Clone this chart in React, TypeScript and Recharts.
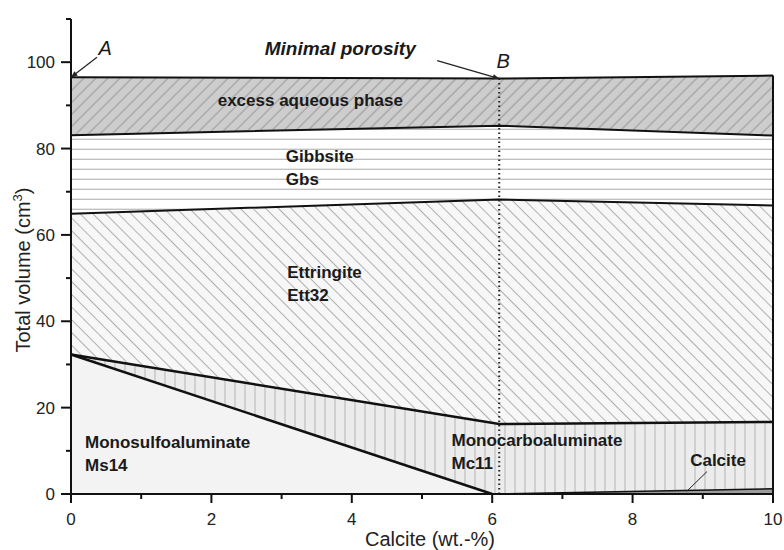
import React from 'react';
import { ComposedChart, Area, XAxis, YAxis, ReferenceLine, ReferenceDot } from 'recharts';

// ---- data (cumulative boundaries, cm3) ----
const xValues = [0, 6.0, 6.1, 10];
const aqueousTop = [96.5, null, 96.2, 96.9];
const gibbsiteTop = [83.1, null, 85.3, 83.0];
const ettringiteTop = [64.9, null, 68.2, 66.8];
const mc11Top = [32.3, null, 16.2, 16.7];
const ms14Top = [32.3, 0, null, null];
const calciteTop = [null, null, 0, 1.2];

const xTicks = [0, 1, 2, 3, 4, 5, 6, 7, 8, 9, 10];
const xMajor = [0, 2, 4, 6, 8, 10];
const yTicks = [0, 10, 20, 30, 40, 50, 60, 70, 80, 90, 100, 110];
const yMajor = [0, 20, 40, 60, 80, 100];

const minimalPorosityX = 6.1;

const phaseLabels = [
  { x: 2.09, y: 89.9, lines: ['excess aqueous phase'] },
  { x: 3.06, y: 77.0, lines: ['Gibbsite', 'Gbs'] },
  { x: 3.08, y: 50.0, lines: ['Ettringite', 'Ett32'] },
  { x: 0.2, y: 10.6, lines: ['Monosulfoaluminate', 'Ms14'] },
  { x: 5.42, y: 11.2, lines: ['Monocarboaluminate', 'Mc11'] },
  { x: 8.82, y: 6.4, lines: ['Calcite'] },
];

const rows = xValues.map((x, i) => ({
  x,
  aq: aqueousTop[i],
  gbs: gibbsiteTop[i],
  ett: ettringiteTop[i],
  mc: mc11Top[i],
  ms: ms14Top[i],
  cal: calciteTop[i],
}));

// ---- layout ----
const W = 784;
const H = 550;
const MARGIN = { top: 19, right: 11, bottom: 16, left: 11 };
const Y_AXIS_W = 60;
const X_AXIS_H = 40;
const PLOT_LEFT = MARGIN.left + Y_AXIS_W;
const PLOT_BOTTOM = H - MARGIN.bottom - X_AXIS_H;
const FONT = "'Liberation Sans', Arial, Helvetica, sans-serif";

function XTick(props: any) {
  const { x, payload } = props;
  const v = payload.value;
  const major = xMajor.includes(v);
  return (
    <g>
      <line x1={x} x2={x} y1={PLOT_BOTTOM} y2={PLOT_BOTTOM + (major ? 9 : 5)} stroke="#111" strokeWidth={2} />
      {major && (
        <text x={x} y={PLOT_BOTTOM + 31} textAnchor="middle" fontSize={17} fill="#222" fontFamily={FONT}>
          {v}
        </text>
      )}
    </g>
  );
}

function YTick(props: any) {
  const { y, payload } = props;
  const v = payload.value;
  const major = yMajor.includes(v);
  return (
    <g>
      <line x1={PLOT_LEFT - (major ? 10 : 5)} x2={PLOT_LEFT} y1={y} y2={y} stroke="#111" strokeWidth={2} />
      {major && (
        <text x={PLOT_LEFT - 16} y={y + 6} textAnchor="end" fontSize={17} fill="#222" fontFamily={FONT}>
          {v}
        </text>
      )}
    </g>
  );
}

const textShape = (lines: string[], opts: any) => (p: any) => (
  <text
    x={p.cx}
    y={p.cy}
    fontFamily={FONT}
    fontSize={opts.size}
    fontWeight={opts.weight}
    fontStyle={opts.style}
    fill="#1a1a1a"
    textAnchor="start"
  >
    {lines.map((l, i) => (
      <tspan key={i} x={p.cx} dy={i === 0 ? 0 : opts.lh}>
        {l}
      </tspan>
    ))}
  </text>
);

const arrowShape = (dx: number, dy: number) => (p: any) => {
  const x0 = p.cx + dx;
  const y0 = p.cy + dy;
  const ang = Math.atan2(p.cy - y0, p.cx - x0);
  const L = 7;
  const a1 = ang + Math.PI - 0.4;
  const a2 = ang + Math.PI + 0.4;
  return (
    <g>
      <line x1={x0} y1={y0} x2={p.cx} y2={p.cy} stroke="#222" strokeWidth={1.2} />
      <path
        d={`M${p.cx},${p.cy} L${p.cx + L * Math.cos(a1)},${p.cy + L * Math.sin(a1)} L${p.cx + L * Math.cos(a2)},${p.cy + L * Math.sin(a2)} Z`}
        fill="#222"
      />
    </g>
  );
};

export default function App() {
  return (
    <div style={{ position: 'absolute', left: 0, top: 0, width: W, height: H, background: '#fff' }}>
      <ComposedChart width={W} height={H} data={rows} margin={MARGIN}>
        <defs>
          <pattern id="pAq" patternUnits="userSpaceOnUse" width="8.5" height="8.5" patternTransform="rotate(45)">
            <rect width="8.5" height="8.5" fill="#cdcdcd" />
            <line x1="4" y1="0" x2="4" y2="8.5" stroke="#8e8e8e" strokeWidth="0.9" />
          </pattern>
          <pattern id="pGbs" patternUnits="userSpaceOnUse" width="10" height="10">
            <rect width="10" height="10" fill="#ffffff" />
            <line x1="0" y1="9.3" x2="10" y2="9.3" stroke="#bdbdbd" strokeWidth="1.3" />
          </pattern>
          <pattern id="pEtt" patternUnits="userSpaceOnUse" width="9" height="9" patternTransform="rotate(-45)">
            <rect width="9" height="9" fill="#f7f7f7" />
            <line x1="4.5" y1="0" x2="4.5" y2="9" stroke="#a8a8a8" strokeWidth="0.9" />
          </pattern>
          <pattern id="pMc" patternUnits="userSpaceOnUse" width="10" height="10">
            <rect width="10" height="10" fill="#ececec" />
            <line x1="5" y1="0" x2="5" y2="10" stroke="#b4b4b4" strokeWidth="1" />
          </pattern>
        </defs>
        <XAxis
          dataKey="x"
          type="number"
          domain={[0, 10]}
          ticks={xTicks}
          interval={0}
          height={X_AXIS_H}
          axisLine={{ stroke: '#111', strokeWidth: 2 }}
          tickLine={false}
          tick={XTick}
          label={{
            content: () => (
              <text x={430} y={546} textAnchor="middle" fontSize={20} fill="#222" fontFamily={FONT}>
                Calcite (wt.-%)
              </text>
            ),
          }}
        />
        <YAxis
          type="number"
          domain={[0, 110]}
          ticks={yTicks}
          interval={0}
          width={Y_AXIS_W}
          axisLine={{ stroke: '#111', strokeWidth: 2 }}
          tickLine={false}
          tick={YTick}
          label={{
            content: () => (
              <text
                x={30}
                y={270}
                transform="rotate(-90 30 270)"
                textAnchor="middle"
                fontSize={20}
                fill="#222"
                fontFamily={FONT}
              >
                Total volume (cm
                <tspan fontSize={13} dy={-8}>3</tspan>
                <tspan dy={8}>)</tspan>
              </text>
            ),
          }}
        />
        <Area dataKey="aq" type="linear" connectNulls fill="url(#pAq)" fillOpacity={1} stroke="#111" strokeWidth={2} dot={false} activeDot={false} isAnimationActive={false} />
        <Area dataKey="gbs" type="linear" connectNulls fill="url(#pGbs)" fillOpacity={1} stroke="#111" strokeWidth={2} dot={false} activeDot={false} isAnimationActive={false} />
        <Area dataKey="ett" type="linear" connectNulls fill="url(#pEtt)" fillOpacity={1} stroke="#111" strokeWidth={2} dot={false} activeDot={false} isAnimationActive={false} />
        <Area dataKey="mc" type="linear" connectNulls fill="url(#pMc)" fillOpacity={1} stroke="#111" strokeWidth={2.5} dot={false} activeDot={false} isAnimationActive={false} />
        <Area dataKey="ms" type="linear" connectNulls fill="#f3f3f3" fillOpacity={1} stroke="#111" strokeWidth={2.5} dot={false} activeDot={false} isAnimationActive={false} />
        <Area dataKey="cal" type="linear" connectNulls fill="#9c9c9c" fillOpacity={1} stroke="#111" strokeWidth={1.5} dot={false} activeDot={false} isAnimationActive={false} />

        <ReferenceLine
          segment={[{ x: 10, y: 0 }, { x: 10, y: aqueousTop[aqueousTop.length - 1] as number }]}
          stroke="#111"
          strokeWidth={2}
        />
        <ReferenceLine
          segment={[{ x: minimalPorosityX, y: 0 }, { x: minimalPorosityX, y: aqueousTop[2] as number }]}
          stroke="#222"
          strokeWidth={2}
          strokeDasharray="1.5 3"
        />
        <ReferenceLine segment={[{ x: 9.06, y: 5.2 }, { x: 8.77, y: 0.6 }]} stroke="#222" strokeWidth={1} />

        {phaseLabels.map((lab, i) => (
          <ReferenceDot
            key={i}
            x={lab.x}
            y={lab.y}
            r={0}
            ifOverflow="visible"
            shape={textShape(lab.lines, { size: 17, weight: 'bold', style: 'normal', lh: 23 })}
          />
        ))}
        <ReferenceDot x={0.39} y={101.7} r={0} ifOverflow="visible" shape={textShape(['A'], { size: 20, weight: 'normal', style: 'italic', lh: 0 })} />
        <ReferenceDot x={6.06} y={98.7} r={0} ifOverflow="visible" shape={textShape(['B'], { size: 20, weight: 'normal', style: 'italic', lh: 0 })} />
        <ReferenceDot x={2.76} y={101.7} r={0} ifOverflow="visible" shape={textShape(['Minimal porosity'], { size: 19, weight: 'bold', style: 'italic', lh: 0 })} />
        <ReferenceDot x={0} y={aqueousTop[0] as number} r={0} ifOverflow="visible" shape={arrowShape(26, -20)} />
        <ReferenceDot x={minimalPorosityX} y={aqueousTop[2] as number} r={0} ifOverflow="visible" shape={arrowShape(-62, -18)} />
      </ComposedChart>
    </div>
  );
}
